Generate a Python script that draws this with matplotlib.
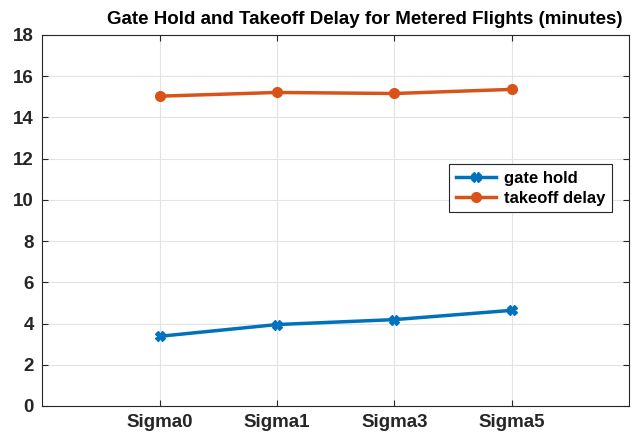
import matplotlib
matplotlib.use("Agg")
import matplotlib.pyplot as plt

categories = ["Sigma0", "Sigma1", "Sigma3", "Sigma5"]
gate_hold = [3.38, 3.95, 4.19, 4.64]
takeoff_delay = [15.03, 15.21, 15.16, 15.36]

plt.rcParams['font.family'] = ['Liberation Sans', 'DejaVu Sans']
plt.rcParams['font.weight'] = 'bold'

fig = plt.figure(figsize=(6.39, 4.37), dpi=100)
ax = fig.add_axes([0.066, 0.071, 0.9186, 0.849])

x = range(1, len(categories) + 1)
ax.plot(x, gate_hold, color='#0072BD', lw=2.5, marker='X', ms=7, label='gate hold')
ax.plot(x, takeoff_delay, color='#D95319', lw=2.5, marker='o', ms=7, label='takeoff delay')

ax.set_xlim(0, 5)
ax.set_ylim(0, 18)
ax.set_xticks(list(x))
ax.set_xticklabels(categories)
ax.set_yticks(range(0, 19, 2))
ax.tick_params(direction='in', top=True, right=True, labelsize=13.5, length=4,
               color='#262626', labelcolor='#262626', pad=6)
ax.grid(True, color='#e3e3e3', lw=0.8)
ax.set_axisbelow(True)
for s in ax.spines.values():
    s.set_color('#262626')
    s.set_linewidth(0.8)

# title sits a little right of centre in the original
ax.text(0.55, 1.018, "Gate Hold and Takeoff Delay for Metered Flights (minutes)",
        transform=ax.transAxes, ha='center', va='bottom',
        fontsize=13.5, fontweight='bold')

leg = ax.legend(loc='upper left', bbox_to_anchor=(0.693, 0.652), borderaxespad=0,
                fontsize=12, fancybox=False, framealpha=1, edgecolor='#262626',
                handlelength=2.4, handletextpad=0.5, borderpad=0.4, labelspacing=0.3)
leg.get_frame().set_linewidth(0.8)

fig.savefig("out.png", dpi=100)
